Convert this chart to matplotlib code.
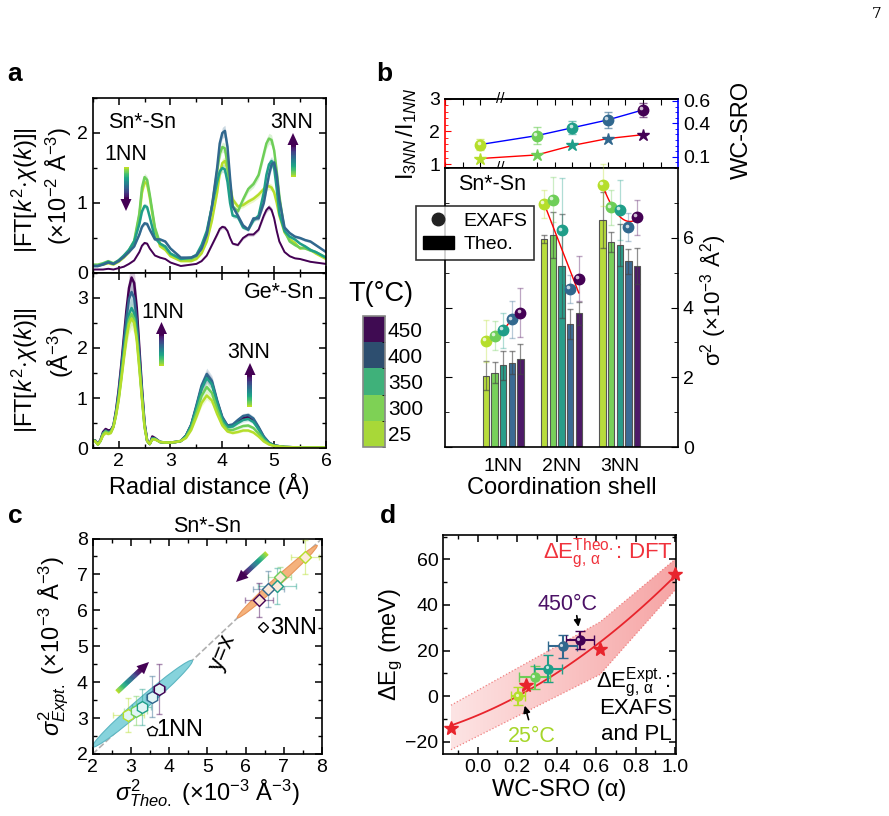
import numpy as np
import matplotlib
matplotlib.use('Agg')
import matplotlib.pyplot as plt
from matplotlib.patches import Polygon, Ellipse, Patch
from matplotlib.lines import Line2D
from matplotlib.colors import ListedColormap, BoundaryNorm, LinearSegmentedColormap
from matplotlib.cm import ScalarMappable
from matplotlib.transforms import offset_copy
from matplotlib.ticker import MultipleLocator

plt.rcParams['font.family'] = ['Liberation Sans', 'DejaVu Sans']
plt.rcParams['mathtext.fontset'] = 'custom'
plt.rcParams['mathtext.rm'] = 'Liberation Sans'
plt.rcParams['mathtext.it'] = 'Liberation Sans:italic'
plt.rcParams['mathtext.bf'] = 'Liberation Sans:bold'
plt.rcParams['xtick.direction'] = 'in'
plt.rcParams['ytick.direction'] = 'in'
plt.rcParams['axes.linewidth'] = 1.2
plt.rcParams['xtick.labelsize'] = 14
plt.rcParams['ytick.labelsize'] = 14

# ---------------- data ----------------
temps = [25, 300, 350, 400, 450]
line_colors = ['#b5de2b', '#6ece58', '#1f9e89', '#31688e', '#440154']
bar_colors = ['#b8dc3c', '#78d05a', '#2a9d8a', '#3b6b94', '#4d1a68']
cbar_colors = ['#a8d838', '#7ed155', '#3fb17a', '#2d4e6f', '#3f0b52']

# panel a, Sn*-Sn
r_sn = [1.5, 1.6, 1.7, 1.8, 1.9, 2.0, 2.1, 2.2, 2.3, 2.4, 2.45, 2.5, 2.55, 2.6, 2.7, 2.8, 2.9, 3.0,
        3.2, 3.4, 3.5, 3.6, 3.7, 3.8, 3.9, 3.95, 4.0, 4.05, 4.1, 4.15, 4.2, 4.3, 4.4, 4.5, 4.6, 4.7,
        4.8, 4.85, 4.9, 4.95, 5.0, 5.05, 5.1, 5.2, 5.3, 5.4, 5.5, 5.6, 5.7, 5.8, 5.9, 6.0]
ft_sn_25 = [0.10, 0.11, 0.12, 0.14, 0.12, 0.16, 0.22, 0.30, 0.42, 0.82, 1.15, 1.30, 1.27, 1.08, 0.62,
            0.38, 0.33, 0.24, 0.17, 0.17, 0.20, 0.28, 0.45, 0.75, 1.15, 1.42, 1.57, 1.60, 1.48, 1.25,
            1.05, 0.95, 0.97, 1.02, 1.06, 1.12, 1.20, 1.23, 1.24, 1.22, 1.15, 1.00, 0.82, 0.58, 0.48,
            0.43, 0.35, 0.37, 0.33, 0.28, 0.24, 0.20]
ft_sn_300 = [0.12, 0.12, 0.14, 0.17, 0.14, 0.18, 0.24, 0.33, 0.46, 0.85, 1.22, 1.37, 1.33, 1.12, 0.65,
             0.42, 0.36, 0.27, 0.20, 0.20, 0.24, 0.35, 0.55, 0.95, 1.45, 1.70, 1.80, 1.78, 1.55, 1.20,
             0.95, 0.88, 1.05, 1.20, 1.27, 1.40, 1.70, 1.85, 1.92, 1.90, 1.75, 1.45, 1.10, 0.60, 0.45,
             0.40, 0.36, 0.35, 0.32, 0.30, 0.26, 0.22]
ft_sn_350 = [0.10, 0.10, 0.13, 0.16, 0.13, 0.18, 0.25, 0.33, 0.45, 0.70, 0.88, 0.96, 0.94, 0.80, 0.50,
             0.42, 0.38, 0.28, 0.20, 0.22, 0.26, 0.40, 0.60, 0.95, 1.30, 1.45, 1.50, 1.48, 1.30, 1.00,
             0.82, 0.80, 0.65, 0.62, 0.75, 0.82, 1.15, 1.40, 1.55, 1.60, 1.50, 1.20, 0.85, 0.60, 0.52,
             0.48, 0.42, 0.38, 0.33, 0.30, 0.26, 0.22]
ft_sn_400 = [0.10, 0.10, 0.12, 0.15, 0.13, 0.17, 0.23, 0.30, 0.38, 0.55, 0.66, 0.71, 0.70, 0.62, 0.48,
             0.48, 0.45, 0.35, 0.22, 0.22, 0.25, 0.35, 0.55, 0.95, 1.50, 1.85, 2.00, 2.03, 1.80, 1.35,
             0.95, 0.82, 0.68, 0.62, 0.78, 0.78, 1.00, 1.20, 1.40, 1.55, 1.58, 1.40, 1.05, 0.65, 0.57,
             0.52, 0.50, 0.47, 0.45, 0.40, 0.35, 0.30]
ft_sn_450 = [0.05, 0.05, 0.05, 0.06, 0.05, 0.07, 0.09, 0.13, 0.18, 0.30, 0.39, 0.43, 0.42, 0.35, 0.25,
             0.22, 0.20, 0.15, 0.10, 0.12, 0.13, 0.17, 0.25, 0.40, 0.55, 0.63, 0.66, 0.65, 0.60, 0.50,
             0.42, 0.40, 0.50, 0.55, 0.55, 0.62, 0.82, 0.90, 0.94, 0.90, 0.78, 0.60, 0.45, 0.30, 0.24,
             0.21, 0.20, 0.18, 0.16, 0.15, 0.14, 0.13]

# panel a, Ge*-Sn
r_ge = [1.5, 1.55, 1.6, 1.65, 1.7, 1.75, 1.8, 1.85, 1.9, 1.95, 2.0, 2.05, 2.1, 2.15, 2.2, 2.25, 2.3,
        2.35, 2.4, 2.45, 2.5, 2.55, 2.6, 2.65, 2.7, 2.8, 2.9, 3.0, 3.1, 3.2, 3.3, 3.4, 3.5, 3.6, 3.7,
        3.8, 3.9, 4.0, 4.1, 4.2, 4.3, 4.4, 4.5, 4.6, 4.7, 4.8, 4.9, 5.0, 5.2, 5.5, 6.0]
ft_ge_25 = [0.15, 0.13, 0.07, 0.14, 0.25, 0.30, 0.28, 0.30, 0.42, 0.65, 0.95, 1.35, 1.78, 2.18, 2.48,
            2.59, 2.50, 2.15, 1.58, 0.98, 0.42, 0.14, 0.08, 0.17, 0.17, 0.12, 0.11, 0.11, 0.12, 0.14,
            0.20, 0.36, 0.62, 0.90, 1.05, 0.95, 0.68, 0.45, 0.33, 0.30, 0.32, 0.35, 0.35, 0.31, 0.23,
            0.13, 0.07, 0.04, 0.02, 0.01, 0.01]
ft_ge_300 = [0.15, 0.14, 0.07, 0.14, 0.28, 0.33, 0.30, 0.32, 0.43, 0.67, 0.98, 1.40, 1.84, 2.25, 2.56,
             2.68, 2.58, 2.22, 1.63, 1.01, 0.43, 0.14, 0.08, 0.18, 0.18, 0.12, 0.11, 0.11, 0.12, 0.14,
             0.22, 0.40, 0.70, 1.04, 1.22, 1.10, 0.78, 0.50, 0.37, 0.36, 0.40, 0.44, 0.45, 0.40, 0.29,
             0.16, 0.08, 0.04, 0.02, 0.01, 0.01]
ft_ge_350 = [0.15, 0.14, 0.07, 0.14, 0.28, 0.33, 0.30, 0.32, 0.43, 0.69, 1.02, 1.46, 1.92, 2.36, 2.68,
             2.80, 2.70, 2.32, 1.70, 1.05, 0.45, 0.14, 0.08, 0.19, 0.18, 0.12, 0.11, 0.11, 0.12, 0.14,
             0.24, 0.45, 0.80, 1.18, 1.40, 1.27, 0.90, 0.58, 0.42, 0.43, 0.50, 0.56, 0.58, 0.52, 0.37,
             0.20, 0.10, 0.05, 0.02, 0.01, 0.01]
ft_ge_400 = [0.16, 0.14, 0.08, 0.15, 0.30, 0.35, 0.32, 0.34, 0.44, 0.72, 1.10, 1.58, 2.10, 2.60, 2.98,
             3.12, 3.00, 2.56, 1.86, 1.14, 0.48, 0.15, 0.08, 0.20, 0.19, 0.12, 0.11, 0.11, 0.12, 0.14,
             0.25, 0.47, 0.85, 1.25, 1.48, 1.34, 0.95, 0.62, 0.45, 0.47, 0.56, 0.64, 0.66, 0.59, 0.42,
             0.23, 0.11, 0.05, 0.02, 0.01, 0.01]
ft_ge_450 = [0.16, 0.15, 0.08, 0.16, 0.32, 0.38, 0.35, 0.36, 0.45, 0.75, 1.15, 1.65, 2.20, 2.75, 3.20,
             3.41, 3.30, 2.80, 2.00, 1.20, 0.50, 0.15, 0.08, 0.23, 0.20, 0.12, 0.11, 0.11, 0.12, 0.14,
             0.25, 0.46, 0.82, 1.21, 1.43, 1.30, 0.92, 0.60, 0.44, 0.45, 0.53, 0.60, 0.62, 0.56, 0.40,
             0.22, 0.10, 0.05, 0.02, 0.01, 0.01]

# panel b, bottom: sigma^2 (x1e-3 A^2)
shells = ['1NN', '2NN', '3NN']
theo_1nn = [2.05, 2.13, 2.34, 2.41, 2.52]
theo_1nn_err = [0.42, 0.30, 0.41, 0.33, 0.42]
theo_2nn = [5.97, 6.07, 5.20, 3.54, 3.83]
theo_2nn_err = [0.12, 0.66, 1.49, 0.43, 0.33]
theo_3nn = [6.52, 5.87, 5.80, 5.32, 5.19]
theo_3nn_err = [0.80, 0.29, 0.60, 0.36, 0.52]
exafs_1nn = [3.05, 3.19, 3.35, 3.66, 3.85]
exafs_1nn_err = [0.60, 0.42, 0.50, 0.54, 0.70]
exafs_2nn = [6.97, 7.09, 6.21, 4.54, 4.83]
exafs_2nn_err = [0.40, 0.65, 1.50, 0.40, 0.65]
exafs_3nn = [7.52, 6.87, 6.80, 6.30, 6.59]
exafs_3nn_err = [0.60, 0.50, 0.87, 0.40, 0.50]
fit_2nn_ends = [6.97, 4.42]

# panel b, top
wc_sro = [0.21, 0.29, 0.36, 0.43, 0.52]
wc_sro_err = [0.05, 0.075, 0.06, 0.07, 0.06]
ratio_31 = [1.17, 1.28, 1.57, 1.78, 1.90]

# panel c
theo_c_1nn = [2.93, 3.13, 3.28, 3.54, 3.73]
expt_c_1nn = [3.09, 3.21, 3.30, 3.60, 3.80]
xerr_c_1nn = [0.40, 0.30, 0.25, 0.15, 0.15]
yerr_c_1nn = [0.48, 0.40, 0.50, 0.58, 0.70]
theo_c_3nn = [7.56, 6.90, 6.83, 6.60, 6.36]
expt_c_3nn = [7.48, 6.92, 6.68, 6.59, 6.29]
xerr_c_3nn = [0.37, 0.30, 0.50, 0.40, 0.37]
yerr_c_3nn = [0.47, 0.30, 0.50, 0.50, 0.48]

# panel d
sro_dft = [-0.135, 0.243, 0.619, 1.0]
eg_dft = [-13.8, 4.7, 20.8, 53.6]
band_x = [-0.135, 0.62, 1.0]
band_hi = [-4.0, 32.5, 60.0]
band_lo = [-23.5, 9.5, 46.5]
sro_exp = [0.206, 0.29, 0.357, 0.43, 0.518]
eg_exp = [0.0, 8.3, 12.0, 21.8, 24.5]
sro_exp_err = [0.035, 0.078, 0.07, 0.075, 0.07]
eg_exp_err = [4.0, 5.0, 6.0, 5.0, 4.0]

# ---------------- layout helpers ----------------
W, H = 889, 816
fig = plt.figure(figsize=(W / 100, H / 100), dpi=100)


def rect(l, t, r, b):
    return [l / W, 1 - b / H, (r - l) / W, (b - t) / H]


def px(x, y):
    return (x / W, 1 - y / H)


def ftext(x, y, s, **kw):
    kw.setdefault('ha', 'center')
    kw.setdefault('va', 'center')
    fig.text(x / W, 1 - y / H, s, **kw)


viridis = plt.get_cmap('viridis')


def grad_arrow(x0, y0, x1, y1, w=5, hw=11, hl=12, n=40):
    L = np.hypot(x1 - x0, y1 - y0)
    ux, uy = (x1 - x0) / L, (y1 - y0) / L
    nx, ny = -uy, ux
    s = L - hl
    for i in range(n):
        a, b = s * i / n, s * (i + 1) / n + 0.4
        c = viridis(0.9 * (1 - i / (n - 1)))
        pts = [(x0 + ux * a + nx * w / 2, y0 + uy * a + ny * w / 2),
               (x0 + ux * b + nx * w / 2, y0 + uy * b + ny * w / 2),
               (x0 + ux * b - nx * w / 2, y0 + uy * b - ny * w / 2),
               (x0 + ux * a - nx * w / 2, y0 + uy * a - ny * w / 2)]
        fig.add_artist(Polygon([px(*p) for p in pts], closed=True, fc=c, ec='none',
                               transform=fig.transFigure))
    head = [(x0 + ux * s + nx * hw / 2, y0 + uy * s + ny * hw / 2), (x1, y1),
            (x0 + ux * s - nx * hw / 2, y0 + uy * s - ny * hw / 2)]
    fig.add_artist(Polygon([px(*p) for p in head], closed=True, fc=viridis(0.0), ec='none',
                           transform=fig.transFigure))


def spheres(ax, x, y, colors, ms=7, z=6):
    for xi, yi, c in zip(x, y, colors):
        ax.plot(xi, yi, 'o', ms=ms, color=c, mec=c, zorder=z, clip_on=False)
    hl = offset_copy(ax.transData, fig=fig, x=-ms * 0.17, y=ms * 0.17, units='points')
    ax.plot(x, y, 'o', ms=ms * 0.35, color='white', alpha=0.75, mew=0, transform=hl,
            zorder=z + 0.1, clip_on=False)


def all_ticks(ax):
    ax.tick_params(which='both', top=True, right=True, direction='in')
    ax.tick_params(which='major', length=5, width=1.1)
    ax.tick_params(which='minor', length=3, width=1.0)


# ---------------- panel a ----------------
ax_at = fig.add_axes(rect(92.7, 98, 326, 273))
ax_ab = fig.add_axes(rect(92.7, 273, 326, 448))

for yv, col in zip([ft_sn_25, ft_sn_300, ft_sn_350, ft_sn_400, ft_sn_450], line_colors):
    yv = np.array(yv)
    ax_at.fill_between(r_sn, yv * 0.96, yv * 1.04, color=col, alpha=0.25, lw=0)
    ax_at.plot(r_sn, yv, color=col, lw=1.8 if col != line_colors[-1] else 1.4)
for yv, col in list(zip([ft_ge_25, ft_ge_300, ft_ge_350, ft_ge_400, ft_ge_450], line_colors))[::-1]:
    yv = np.array(yv)
    ax_ab.fill_between(r_ge, yv * 0.92, yv * 1.08, color=col, alpha=0.2, lw=0)
    ax_ab.plot(r_ge, yv, color=col, lw=1.8)

for ax in (ax_at, ax_ab):
    ax.set_xlim(1.5, 6)
    ax.xaxis.set_major_locator(MultipleLocator(1))
    ax.xaxis.set_minor_locator(MultipleLocator(0.5))
    ax.yaxis.set_major_locator(MultipleLocator(1))
    ax.yaxis.set_minor_locator(MultipleLocator(0.5))
    all_ticks(ax)
ax_at.set_ylim(0, 2.5)
ax_ab.set_ylim(0, 3.5)
ax_at.tick_params(labelbottom=False)
ax_ab.set_xlabel('Radial distance (Å)', fontsize=17, labelpad=2)

ftext(25, 190, r'$|\mathrm{FT}[k^2\!\cdot\!\chi(k)]|$', fontsize=17, rotation=90)
ftext(59, 186, '(×10$^{-2}$ Å$^{-3}$)', fontsize=17, rotation=90)
ftext(25, 370, r'$|\mathrm{FT}[k^2\!\cdot\!\chi(k)]|$', fontsize=17, rotation=90)
ftext(61, 352, '(Å$^{-3}$)', fontsize=17, rotation=90)

ftext(142, 122, 'Sn*-Sn', fontsize=15.5)
ftext(126, 154, '1NN', fontsize=15.5)
ftext(292, 122, '3NN', fontsize=15.5)
ftext(279, 292, 'Ge*-Sn', fontsize=15.5)
ftext(163, 312, '1NN', fontsize=15.5)
ftext(249, 352, '3NN', fontsize=15.5)
grad_arrow(126, 167, 126, 211)
grad_arrow(293, 177, 293, 133)
grad_arrow(161.5, 366, 161.5, 322)
grad_arrow(250, 407, 250, 363)

# colour bar
cax = fig.add_axes(rect(363, 316, 385, 447))
cb = fig.colorbar(ScalarMappable(norm=BoundaryNorm(np.arange(6), 5), cmap=ListedColormap(cbar_colors)),
                  cax=cax, ticks=np.arange(5) + 0.5)
cb.ax.set_yticklabels([str(t) for t in temps])
cb.ax.tick_params(length=0, labelsize=15, pad=2)
cb.outline.set_edgecolor('#888888')
ftext(381, 294, 'T(°C)', fontsize=19.5)

# ---------------- panel b top ----------------
ax_bt = fig.add_axes(rect(445, 98.7, 678, 168))
ax_bt2 = ax_bt.twinx()
xpos = [t + 195 if t < 100 else t for t in temps]
ax_bt.plot(xpos, ratio_31, color='red', lw=1, zorder=3)
for x, yv, c in zip(xpos, ratio_31, line_colors):
    ax_bt.plot(x, yv, '*', ms=9, color=c, mec=c, zorder=4)
ax_bt2.plot(xpos, wc_sro, color='blue', lw=1, zorder=3)
for x, yv, e, c in zip(xpos, wc_sro, wc_sro_err, line_colors):
    ax_bt2.errorbar(x, yv, yerr=e, fmt='none', ecolor=c, alpha=0.6, capsize=3, lw=1, zorder=3)
spheres(ax_bt2, xpos, wc_sro, line_colors, ms=7.5)

ax_bt.set_xlim(170.7, 499.3)
ax_bt.set_ylim(0.88, 3.0)
ax_bt2.set_ylim(0.0, 0.62)
ax_bt.set_xticks(list(range(170, 246, 25)) + list(range(300, 500, 25)))
ax_bt.tick_params(axis='x', which='both', top=True, bottom=True, labelbottom=False, length=4)
ax_bt.set_yticks([1, 2, 3])
ax_bt.yaxis.set_minor_locator(MultipleLocator(0.2))
ax_bt.tick_params(axis='y', which='both', colors='red', labelcolor='black', left=True, right=False)
ax_bt.tick_params(axis='y', which='major', length=4)
ax_bt.tick_params(axis='y', which='minor', length=2.5)
ax_bt2.set_yticks([0.1, 0.4, 0.6])
ax_bt2.yaxis.set_minor_locator(MultipleLocator(0.05))
ax_bt2.tick_params(axis='y', which='both', colors='blue', labelcolor='black', direction='in')
ax_bt2.tick_params(axis='y', which='major', length=4)
ax_bt2.tick_params(axis='y', which='minor', length=2.5)
ax_bt.spines['left'].set_color('red')
ax_bt2.spines['left'].set_visible(False)
ax_bt2.spines['right'].set_color('blue')
ax_bt.spines['right'].set_visible(False)
for yb in (0.88, 3.0):
    ax_bt.text(248, yb, '//', fontsize=11, ha='center', va='center', clip_on=False,
               bbox=dict(fc='white', ec='none', pad=0.1))
ftext(407, 134, r'$\mathrm{I}_{3NN}\,/\mathrm{I}_{1NN}$', fontsize=17, rotation=90)
ftext(742, 130, 'WC-SRO', fontsize=17, rotation=90)

# ---------------- panel b bottom ----------------
ax_bb = fig.add_axes(rect(445, 168, 678, 447))
offs = (np.arange(5) - 2) * 0.148
bw = 0.108
groups = [(theo_1nn, theo_1nn_err, exafs_1nn, exafs_1nn_err),
          (theo_2nn, theo_2nn_err, exafs_2nn, exafs_2nn_err),
          (theo_3nn, theo_3nn_err, exafs_3nn, exafs_3nn_err)]
for gi, (th, the, ex, exe) in enumerate(groups):
    xs = gi + 1 + offs
    ax_bb.bar(xs, th, width=bw, color=bar_colors, edgecolor='#555555', lw=0.8, zorder=2)
    ax_bb.errorbar(xs, th, yerr=the, fmt='none', ecolor='#444444', alpha=0.6, capsize=2.5,
                   lw=0.9, zorder=2.5)
    for x, yv, e, c in zip(xs, ex, exe, line_colors):
        ax_bb.errorbar(x, yv, yerr=e, fmt='none', ecolor=c, alpha=0.35, capsize=2.5, lw=0.9,
                       zorder=3, clip_on=False)
    if gi == 0:
        ax_bb.plot(xs, ex, color='red', lw=1, zorder=4)
    elif gi == 1:
        ax_bb.plot([xs[0], xs[-1]], fit_2nn_ends, color='red', lw=1, zorder=4)
    else:
        cf = np.polyfit(xs, ex, 2)
        xx = np.linspace(xs[0], xs[-1], 50)
        ax_bb.plot(xx, np.polyval(cf, xx), color='red', lw=1, zorder=4)
    spheres(ax_bb, xs, ex, line_colors, ms=7.5)

ax_bb.set_xlim(0, 4)
ax_bb.set_ylim(0, 8)
ax_bb.set_xticks([1, 2, 3])
ax_bb.set_xticklabels(shells, fontsize=14)
ax_bb.tick_params(axis='x', length=0, pad=8)
ax_bb.set_yticks([0, 2, 4, 6])
ax_bb.yaxis.set_minor_locator(MultipleLocator(1))
ax_bb.tick_params(axis='y', which='both', left=True, right=True, labelleft=False,
                  labelright=True, direction='in')
ax_bb.tick_params(axis='y', which='major', length=5)
ax_bb.tick_params(axis='y', which='minor', length=3)
ax_bb.set_xlabel('Coordination shell', fontsize=17, labelpad=1)
ftext(492, 184, 'Sn*-Sn', fontsize=15.5)
ftext(713, 300, 'σ$^2$ (×10$^{-3}$ Å$^2$)', fontsize=16, rotation=90)

leg = fig.legend([Line2D([], [], marker='o', ls='', color='#222222', ms=9),
                  Patch(facecolor='black', edgecolor='black')], ['EXAFS', 'Theo.'],
                 loc='upper left', bbox_to_anchor=px(416, 205.5), fontsize=14, frameon=True,
                 fancybox=False, edgecolor='black', borderpad=0.35, labelspacing=0.3,
                 handlelength=1.6, handletextpad=0.5, borderaxespad=0)
leg.get_frame().set_linewidth(1.2)

# ---------------- panel c ----------------
ax_c = fig.add_axes(rect(92.7, 538.5, 322, 754))
ax_c.plot([2, 8], [2, 8], '--', color='#b0b0b0', lw=1.2, zorder=1)
ax_c.add_patch(Ellipse((3.3, 3.4), width=3.55, height=0.32, angle=42.7, fc='#86d3dc',
                       ec='#5cb6c2', lw=0.8, zorder=2))
ax_c.add_patch(Ellipse((6.83, 6.8), width=2.9, height=0.22, angle=44, fc='#f5b27c',
                       ec='#e8955a', lw=0.8, zorder=2))
for x, yv, xe, ye, c in zip(theo_c_1nn, expt_c_1nn, xerr_c_1nn, yerr_c_1nn, line_colors):
    ax_c.errorbar(x, yv, xerr=xe, yerr=ye, fmt='none', ecolor=c, alpha=0.45, capsize=2.5,
                  lw=0.9, zorder=3)
    ax_c.plot(x, yv, 'h', ms=8.5, mfc='#e2f5f6', mec=c, mew=1.0, zorder=4)
for x, yv, xe, ye, c in zip(theo_c_3nn, expt_c_3nn, xerr_c_3nn, yerr_c_3nn, line_colors):
    ax_c.errorbar(x, yv, xerr=xe, yerr=ye, fmt='none', ecolor=c, alpha=0.45, capsize=2.5,
                  lw=0.9, zorder=3)
    ax_c.plot(x, yv, 'D', ms=6.5, mfc='#fdebdc', mec=c, mew=1.0, zorder=4)
ax_c.plot(6.46, 5.54, 'D', ms=5.5, mfc='white', mec='black', mew=1)
ax_c.text(6.64, 5.52, '3NN', fontsize=17, va='center')
ax_c.plot(3.54, 2.65, 'p', ms=7, mfc='white', mec='black', mew=1)
ax_c.text(3.66, 2.67, '1NN', fontsize=17, va='center')
ax_c.set_xlim(2, 8)
ax_c.set_ylim(2, 8)
ax_c.xaxis.set_major_locator(MultipleLocator(1))
ax_c.yaxis.set_major_locator(MultipleLocator(1))
ax_c.xaxis.set_minor_locator(MultipleLocator(0.5))
ax_c.yaxis.set_minor_locator(MultipleLocator(0.5))
all_ticks(ax_c)
ax_c.set_xlabel(r'$\sigma^2_{Theo.}$ (×10$^{-3}$ Å$^{-3}$)', fontsize=17, labelpad=1)
ax_c.set_ylabel(r'$\sigma^2_{Expt.}$ (×10$^{-3}$ Å$^{-3}$)', fontsize=17, labelpad=4)
ax_c.set_title('Sn*-Sn', fontsize=15.5, pad=5)
ftext(223, 652, 'y=x', fontsize=17, rotation=68)
grad_arrow(267, 553, 236, 582)
grad_arrow(117, 692, 149, 662)

# ---------------- panel d ----------------
ax_d = fig.add_axes(rect(443.3, 535, 676, 754))
pink = LinearSegmentedColormap.from_list('pk', ['#fde4e4', '#f6a5a5'])
band = Polygon(list(zip(band_x, band_hi)) + list(zip(band_x[::-1], band_lo[::-1])), closed=True,
               fc='none', ec='none')
ax_d.add_patch(band)
im = ax_d.imshow(np.linspace(0, 1, 256).reshape(1, -1), cmap=pink, aspect='auto',
                 extent=[band_x[0], band_x[-1], min(band_lo), max(band_hi)], origin='lower', zorder=1)
im.set_clip_path(band)
ax_d.plot(band_x, band_hi, ':', color='#f08080', lw=0.9, zorder=1.5)
ax_d.plot(band_x, band_lo, ':', color='#f08080', lw=0.9, zorder=1.5)
cf = np.polyfit(sro_dft, eg_dft, 2)
xx = np.linspace(sro_dft[0], sro_dft[-1], 100)
ax_d.plot(xx, np.polyval(cf, xx), color='#e8242c', lw=1.3, zorder=2)
ax_d.plot(sro_dft, eg_dft, '*', ms=10.5, color='#e8242c', zorder=3, clip_on=False)
for x, yv, xe, ye, c in zip(sro_exp, eg_exp, sro_exp_err, eg_exp_err, line_colors):
    ax_d.errorbar(x, yv, xerr=xe, yerr=ye, fmt='none', ecolor=c, capsize=3.5, lw=1.5, zorder=4)
spheres(ax_d, sro_exp, eg_exp, line_colors, ms=6.5)
ax_d.annotate('', xy=(0.513, 29.2), xytext=(0.50, 36.5),
              arrowprops=dict(arrowstyle='-|>', color='black', lw=1.2, mutation_scale=10))
ax_d.annotate('', xy=(0.235, -3.0), xytext=(0.262, -11.5),
              arrowprops=dict(arrowstyle='-|>', color='black', lw=1.2, mutation_scale=10))
ax_d.set_xlim(-0.174, 1.005)
ax_d.set_ylim(-25.4, 70.7)
ax_d.xaxis.set_major_locator(MultipleLocator(0.2))
ax_d.xaxis.set_minor_locator(MultipleLocator(0.1))
ax_d.yaxis.set_major_locator(MultipleLocator(20))
ax_d.yaxis.set_minor_locator(MultipleLocator(10))
ax_d.xaxis.set_major_formatter(matplotlib.ticker.FormatStrFormatter('%.1f'))
all_ticks(ax_d)
ax_d.set_xlabel('WC-SRO (α)', fontsize=17, labelpad=2)
ax_d.set_ylabel(r'$\Delta\mathrm{E}_\mathrm{g}$ (meV)', fontsize=17, labelpad=0)
ftext(673, 553, r'$\Delta\mathrm{E}^{\mathrm{Theo.}}_{\mathrm{g,\,\alpha}}$: DFT', fontsize=16,
      color='#f0323c', ha='right')
ftext(567, 605, '450°C', fontsize=15.5, color='#4b1166')
ftext(532, 736, '25°C', fontsize=15.5, color='#a6d62a')
ftext(671, 683, r'$\Delta\mathrm{E}^{\mathrm{Expt.}}_{\mathrm{g,\,\alpha}}$:', fontsize=16, ha='right')
ftext(672, 709, 'EXAFS', fontsize=16, ha='right')
ftext(672, 734, 'and PL', fontsize=16, ha='right')

# ---------------- panel labels & page ----------------
ftext(15, 74, 'a', fontsize=19, fontweight='bold')
ftext(384, 74, 'b', fontsize=19, fontweight='bold')
ftext(15, 516, 'c', fontsize=19, fontweight='bold')
ftext(388, 516, 'd', fontsize=19, fontweight='bold')
ftext(877, 14, '7', fontsize=11, family='DejaVu Serif')

fig.savefig('out.png', dpi=100)
